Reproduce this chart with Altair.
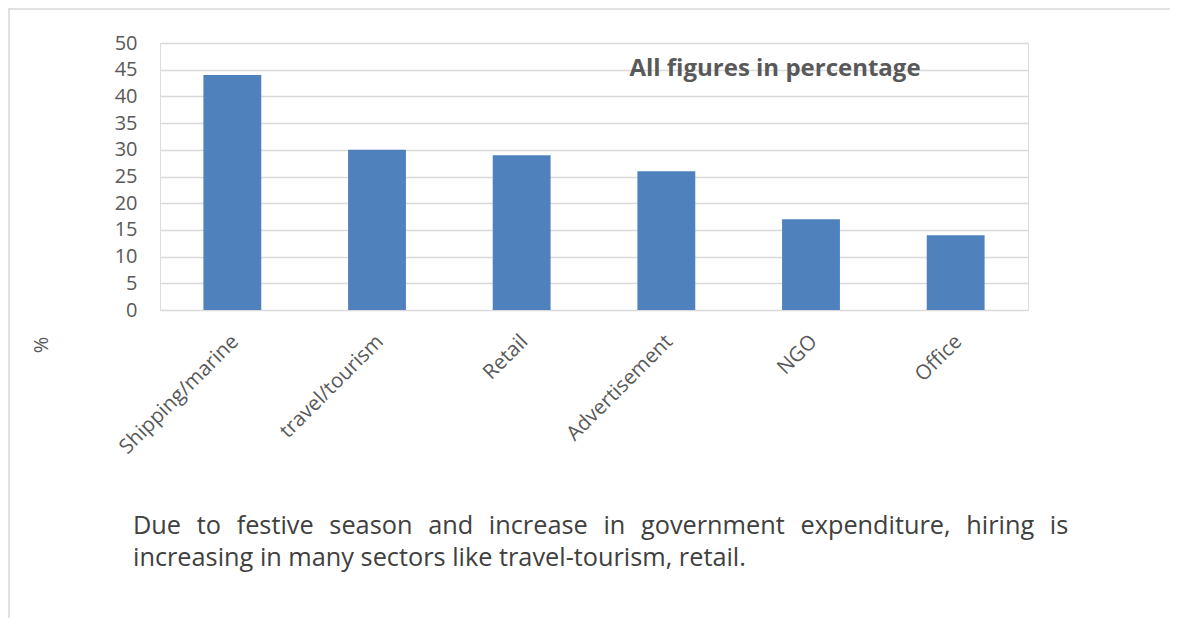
import altair as alt
import pandas as pd

categories = ["Shipping/marine", "travel/tourism", "Retail", "Advertisement", "NGO", "Office"]
values = [44, 30, 29, 26, 17, 14]
y_ticks = [0, 5, 10, 15, 20, 25, 30, 35, 40, 45, 50]

note = "All figures in percentage"
unit_label = "%"
caption_words_1 = ["Due", "to", "festive", "season", "and", "increase", "in",
                   "government", "expenditure,", "hiring", "is"]
caption_2 = "increasing in many sectors like travel-tourism, retail."

FONT = "Open Sans"
df = pd.DataFrame({"sector": categories, "value": values})
one = pd.DataFrame({"a": [0]})

gap = "\u00a0\u00a0\u200a"
caption_1 = gap.join(caption_words_1)

bars = alt.Chart(df).mark_bar(color="#4f81bd").encode(
    x=alt.X("sector:N", sort=categories,
            scale=alt.Scale(paddingInner=0.6, paddingOuter=0.3),
            axis=alt.Axis(title=None, labelAngle=-45, labelFontSize=20.5, labelColor="#595959",
                          labelFont=FONT, ticks=False, domain=False, labelPadding=21,
                          labelOffset=-4, grid=False)),
    y=alt.Y("value:Q", scale=alt.Scale(domain=[0, 50], nice=False),
            axis=alt.Axis(title=None, values=y_ticks, labelFontSize=20, labelColor="#595959",
                          labelFont=FONT, ticks=False, domain=False, labelPadding=23,
                          grid=True, gridColor="#d9d9d9", gridWidth=1.5)),
)

frame_left = alt.Chart(one).mark_rule(color="#d9d9d9", strokeWidth=1.5).encode(
    x=alt.value(-151), y=alt.value(-35), y2=alt.value(583))
frame_top = alt.Chart(one).mark_rule(color="#d9d9d9", strokeWidth=1.5).encode(
    x=alt.value(-151), x2=alt.value(1018), y=alt.value(-34))

note_text = alt.Chart(one).mark_text(text=note, font=FONT, fontSize=24, fontWeight="bold",
                                     color="#595959", align="center", baseline="middle").encode(
    x=alt.value(615), y=alt.value(26))

unit_text = alt.Chart(one).mark_text(text=unit_label, font=FONT, fontSize=20, color="#595959",
                                     angle=270, align="center", baseline="middle").encode(
    x=alt.value(-118), y=alt.value(302))

cap1 = alt.Chart(one).mark_text(text=caption_1, font=FONT, fontSize=25.3, color="#404040",
                                align="left", baseline="alphabetic").encode(
    x=alt.value(-27), y=alt.value(491))
cap2 = alt.Chart(one).mark_text(text=caption_2, font=FONT, fontSize=25.3, color="#404040",
                                align="left", baseline="alphabetic").encode(
    x=alt.value(-27), y=alt.value(523))

chart = alt.layer(frame_left, frame_top, bars, note_text, unit_text, cap1, cap2).properties(
    width=868, height=267,
    padding={"left": 152, "top": 35, "right": 142, "bottom": 308},
    autosize=alt.AutoSizeParams(type="none"),
).configure_view(stroke=None).configure(background="white")

chart.save("out.html", embed_options={"renderer": "svg", "actions": False})
